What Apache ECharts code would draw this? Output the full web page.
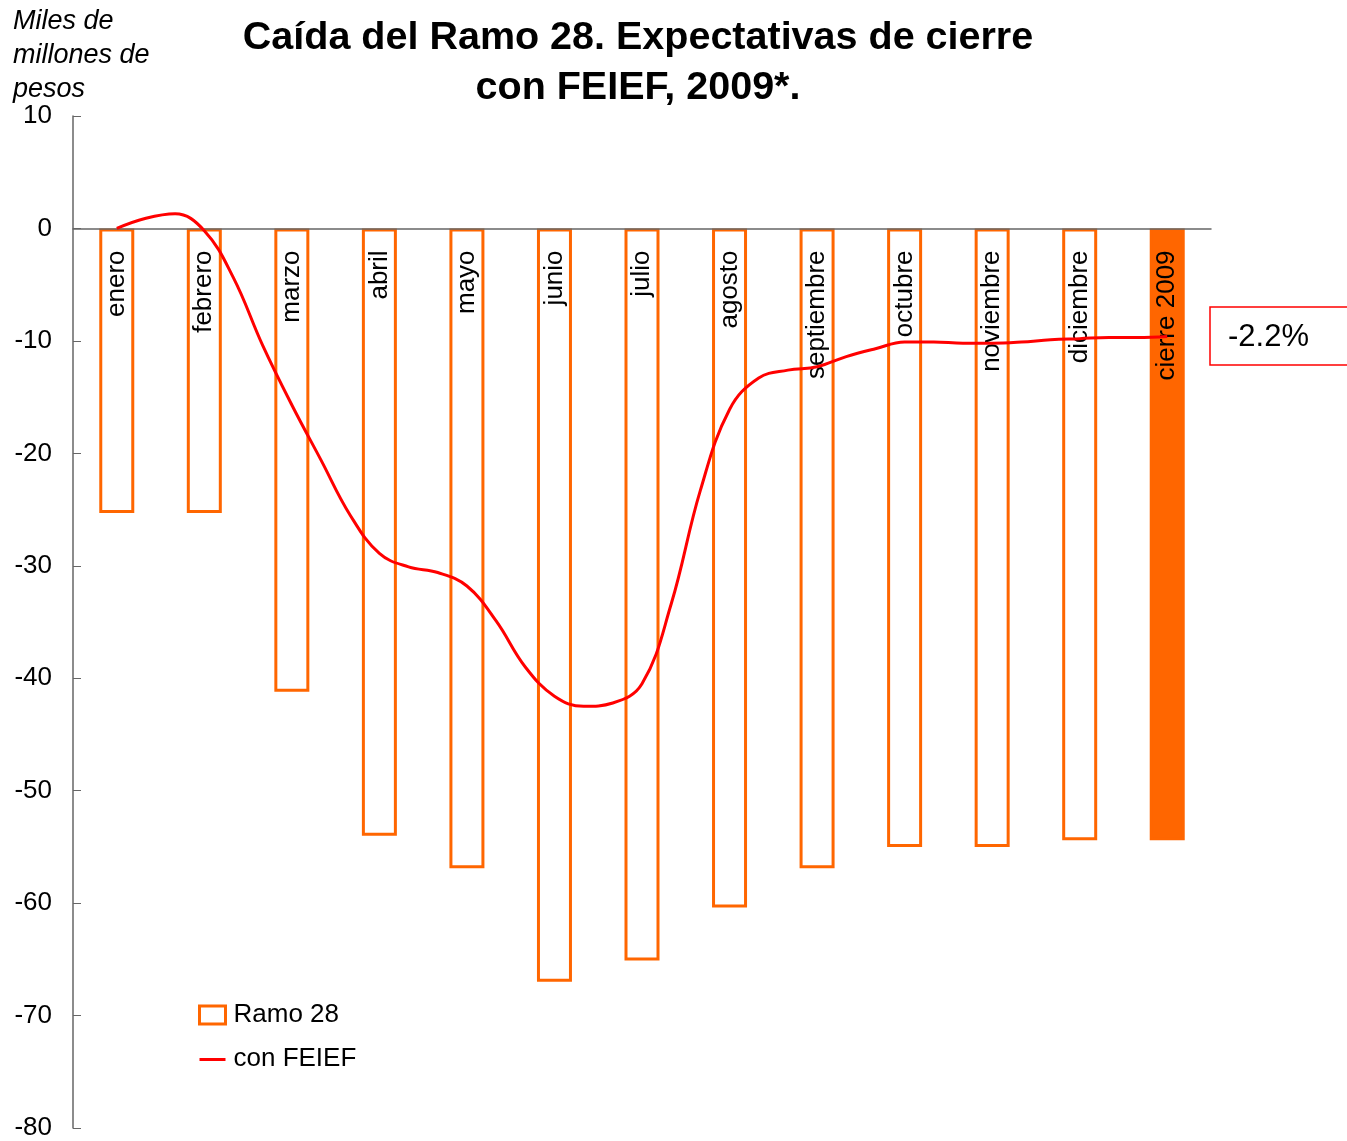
<!DOCTYPE html>
<html>
<head>
<meta charset="utf-8">
<script src="https://cdn.jsdelivr.net/npm/echarts@6/dist/echarts.min.js"></script>
<style>
  html, body { margin: 0; padding: 0; background: #fff; }
  #main { width: 1347px; height: 1141px; }
</style>
</head>
<body>
<div id="main"></div>
<script>
// meses + cierre
var meses = ['enero', 'febrero', 'marzo', 'abril', 'mayo', 'junio', 'julio',
  'agosto', 'septiembre', 'octubre', 'noviembre', 'diciembre', 'cierre 2009'];

// Ramo 28, miles de millones de pesos
var ramo28 = [-25.3, -25.3, -41.2, -54.0, -56.9, -67.0, -65.1,
  -60.4, -56.9, -55.0, -55.0, -54.4, -54.4];

// con FEIEF, tres lecturas por mes (enero .. cierre)
var feief = [0, 0.9, 1.3, -0.2, -4.4, -10.4, -15.7, -20.6, -25.5, -28.9,
  -30.1, -30.6, -31.8, -34.9, -39.0, -41.6, -42.5, -42.2, -40.5, -33.4,
  -23.3, -16.1, -13.3, -12.6, -12.3, -11.4, -10.7, -10.1, -10.1, -10.2,
  -10.2, -10.1, -9.9, -9.8, -9.7, -9.7, -9.6];
var lecturasPorMes = 3;

var yMin = -80, yMax = 10, yPaso = 10;
var cierreTexto = '-2.2%';

var naranja = '#FF6600';
var rojo = '#FF0000';
var fuente = 'Liberation Sans, Arial, sans-serif';

var gridTop = 116, gridBottom = 13, alto = 1141;

var myChart = echarts.init(document.getElementById('main'));

var barData = ramo28.map(function (v, i) {
  if (i === ramo28.length - 1) {
    return { value: v, itemStyle: { color: naranja } };
  }
  return v;
});

var lineData = feief.map(function (v, i) {
  return [i / lecturasPorMes, v];
});

// eje de categorias arriba, bajado hasta la linea del cero
var altoGrid = alto - gridTop - gridBottom;
var bajarAlCero = yMax / (yMax - yMin) * altoGrid;

var option = {
  backgroundColor: '#fff',
  animation: false,
  textStyle: { fontFamily: fuente },
  title: {
    text: 'Caída del Ramo 28. Expectativas de cierre\ncon FEIEF, 2009*.',
    left: 633,
    top: 8,
    textAlign: 'center',
    textStyle: {
      fontFamily: fuente,
      fontSize: 39.5,
      fontWeight: 'bold',
      color: '#000',
      lineHeight: 50
    }
  },
  grid: { left: 73, right: 136, top: gridTop, bottom: gridBottom, outerBoundsMode: 'none', containLabel: false },
  legend: {
    orient: 'vertical',
    left: 193,
    top: 997,
    itemWidth: 26,
    itemHeight: 18,
    itemGap: 18,
    textStyle: { fontFamily: fuente, fontSize: 26, color: '#000', padding: [0, 0, 0, 3] },
    data: [
      { name: 'Ramo 28', icon: 'rect',
        itemStyle: { color: '#fff', borderColor: naranja, borderWidth: 3 } },
      { name: 'con FEIEF', icon: 'path://M0,0 M0,18 M0,8 L26,8 L26,11 L0,11 Z',
        itemStyle: { color: rojo, borderWidth: 0 } }
    ]
  },
  xAxis: [{
    type: 'category',
    data: meses,
    position: 'top',
    offset: -bajarAlCero,
    z: 2,
    axisLine: { onZero: false, lineStyle: { color: '#666', width: 1.5 } },
    axisTick: { show: false },
    axisLabel: {
      inside: true,
      rotate: -90,
      margin: 22,
      interval: 0,
      fontFamily: fuente,
      fontSize: 26,
      color: '#000'
    }
  }, {
    type: 'value',
    min: -0.5,
    max: meses.length - 0.5,
    show: false
  }],
  yAxis: {
    type: 'value',
    min: yMin,
    max: yMax,
    interval: yPaso,
    splitLine: { show: false },
    axisLine: { show: true, onZero: false, lineStyle: { color: '#666', width: 1.5 } },
    axisTick: { show: true, inside: true, length: 8, lineStyle: { color: '#666' } },
    axisLabel: { margin: 21, fontFamily: fuente, fontSize: 26, color: '#000' }
  },
  graphic: [{
    type: 'text',
    left: 13,
    top: 4,
    style: {
      text: 'Miles de\nmillones de\npesos',
      font: 'italic 27px ' + fuente,
      lineHeight: 34,
      fill: '#000'
    }
  }, {
    type: 'rect',
    shape: { x: 1210, y: 307, width: 150, height: 58 },
    style: { fill: '#fff', stroke: rojo, lineWidth: 1.5 }
  }, {
    type: 'text',
    x: 1228,
    y: 337,
    style: {
      text: cierreTexto,
      font: '31px ' + fuente,
      fill: '#000',
      verticalAlign: 'middle'
    }
  }],
  series: [{
    name: 'Ramo 28',
    type: 'bar',
    z: 1,
    barWidth: 35,
    itemStyle: { color: '#fff', borderColor: naranja, borderWidth: 3 },
    data: barData
  }, {
    name: 'con FEIEF',
    type: 'line',
    xAxisIndex: 1,
    z: 3,
    smooth: 0.4,
    symbol: 'none',
    lineStyle: { color: rojo, width: 3 },
    itemStyle: { color: rojo },
    data: lineData
  }]
};

myChart.setOption(option);
</script>
</body>
</html>
